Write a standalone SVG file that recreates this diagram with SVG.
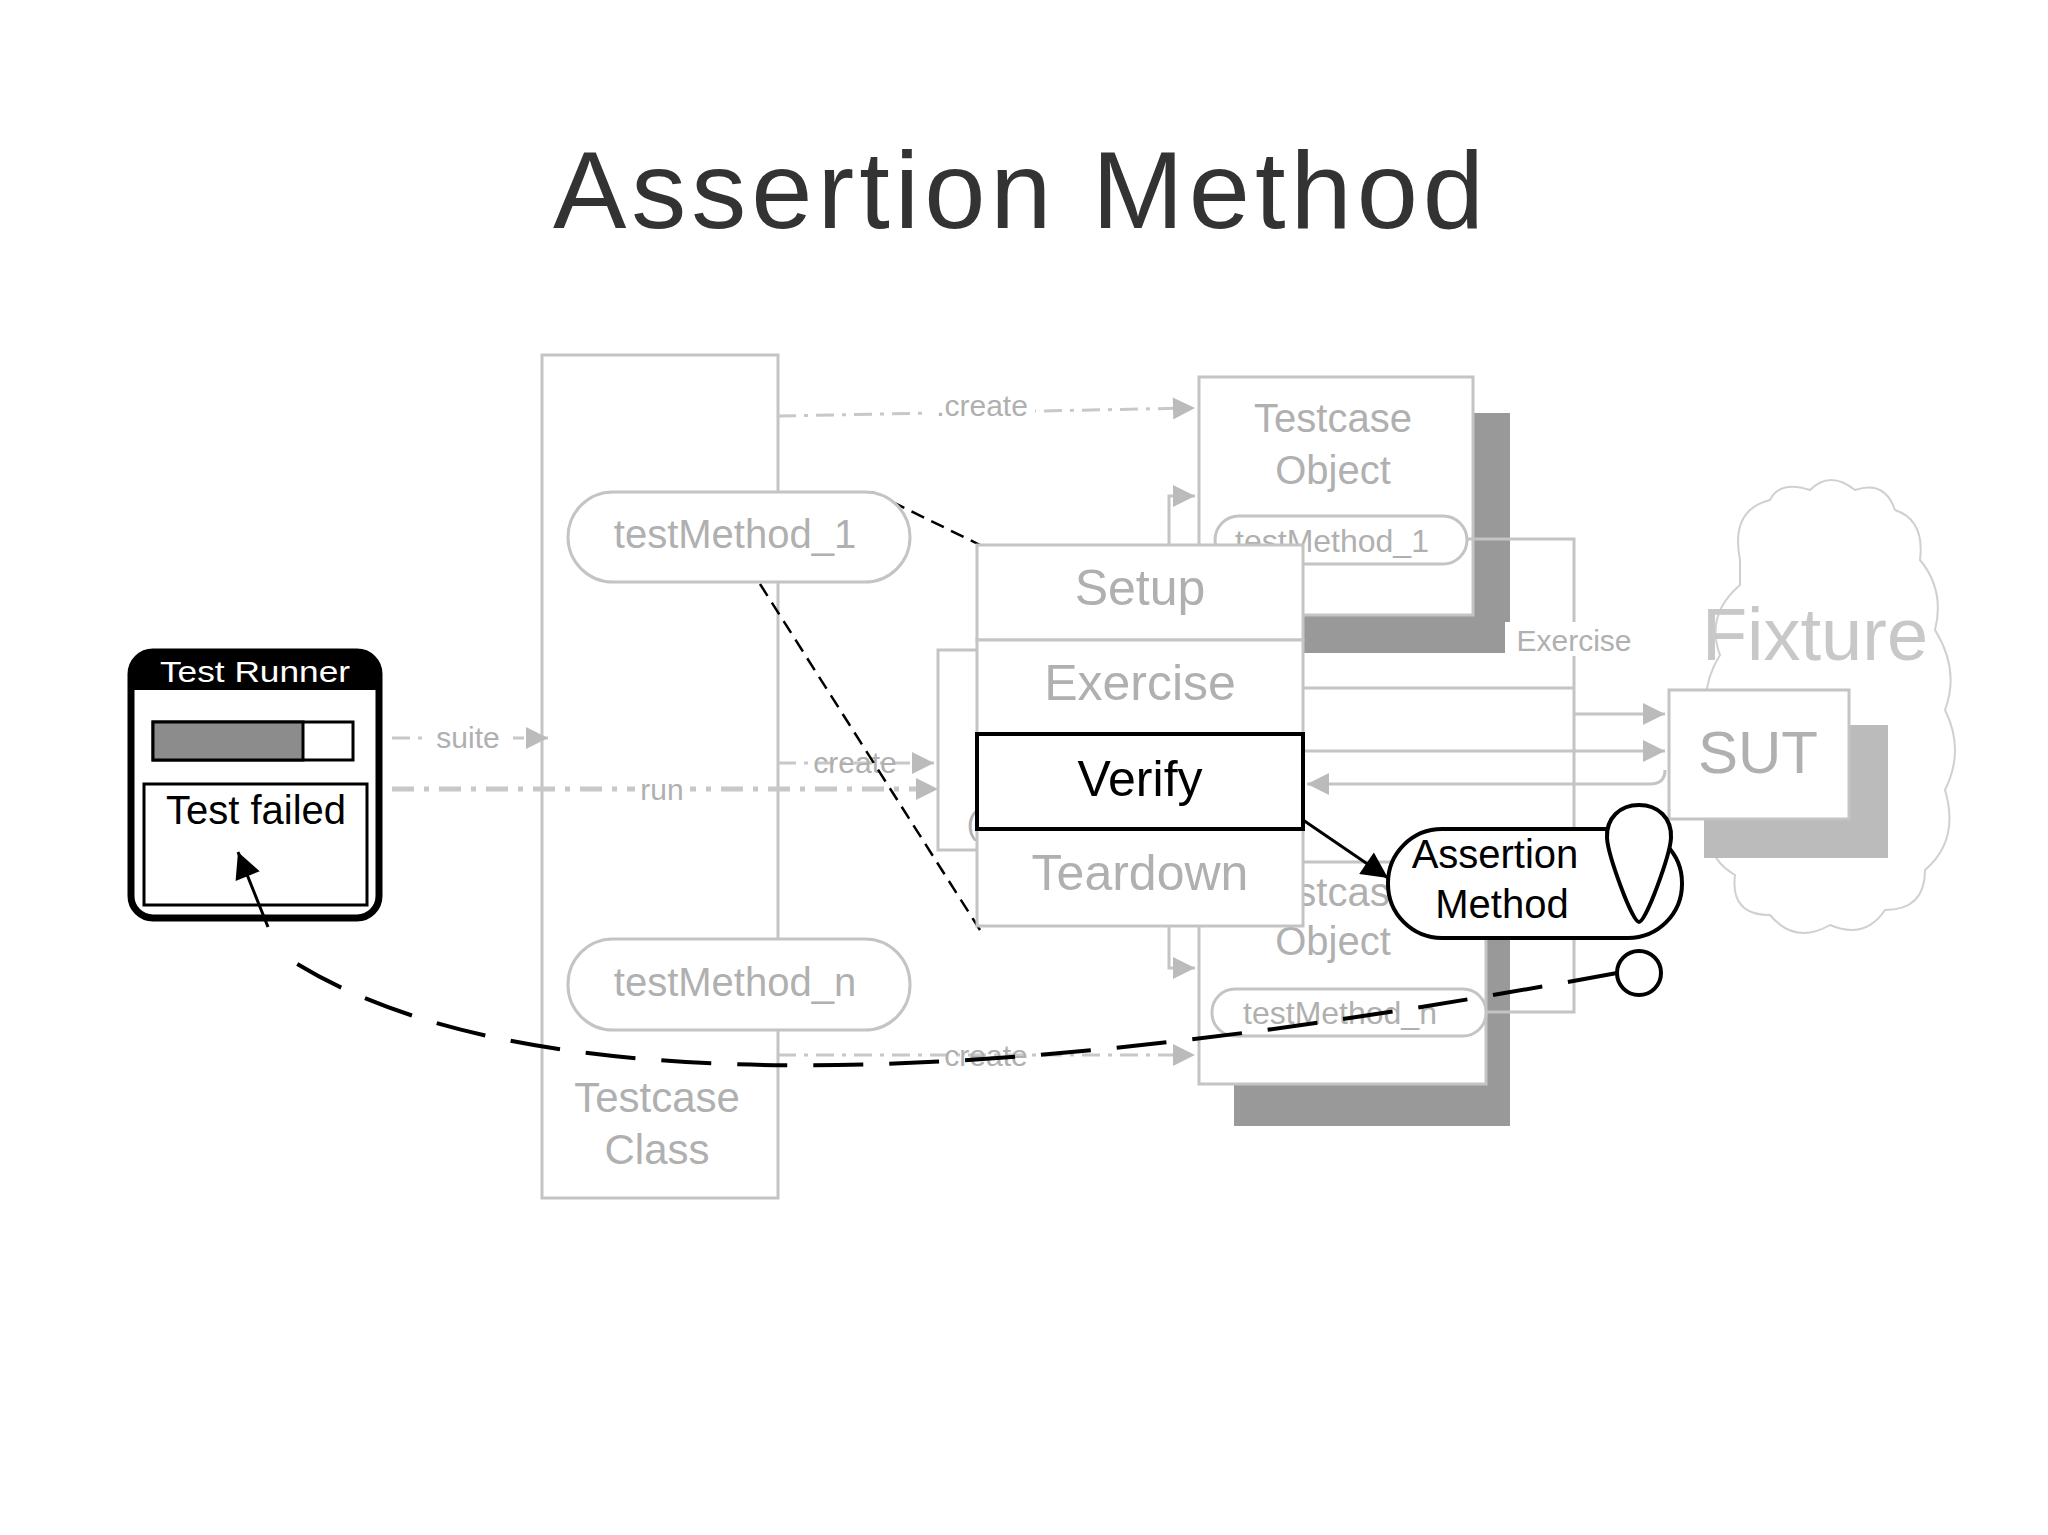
<svg xmlns="http://www.w3.org/2000/svg" width="2048" height="1535" viewBox="0 0 2048 1535">
<style>
text{font-family:"Liberation Sans",Arial,sans-serif;text-anchor:middle}
.g{fill:#fff;stroke:#c4c4c4;stroke-width:3}
.gt{fill:#b0b0b0}
.gl{fill:none;stroke:#c4c4c4;stroke-width:3}
.dd{fill:none;stroke:#c8c8c8;stroke-width:3;stroke-dasharray:18 8 4 8}
.bk{fill:none;stroke:#000;stroke-width:3}
</style>
<defs>
<marker id="gA" viewBox="0 0 10 10" refX="10" refY="5" markerWidth="30" markerHeight="22" orient="auto" markerUnits="userSpaceOnUse"><path d="M0,0L10,5L0,10z" fill="#bbb"/></marker>
<marker id="ba" viewBox="0 0 10 10" refX="10" refY="5" markerWidth="34" markerHeight="26" orient="auto" markerUnits="userSpaceOnUse"><path d="M0,0L10,5L0,10z" fill="#000"/></marker>
</defs>
<rect width="2048" height="1535" fill="#fff"/>
<text x="1021" y="228" font-size="110" letter-spacing="5" fill="#333" font-family="'Open Sans',sans-serif">Assertion Method</text>

<g id="fixture">
<path d="M1740,560 q-10,-50 30,-60 q10,-20 40,-10 q20,-20 45,0 q30,-10 40,20 q30,10 25,50 q25,30 15,70 q25,40 10,80 q20,40 0,80 q15,50 -20,80 q0,40 -40,40 q-20,30 -55,15 q-35,20 -60,-10 q-40,0 -35,-40 q-35,-20 -20,-60 q-25,-40 0,-80 q-20,-40 5,-80 q-15,-40 20,-70z" fill="#fff" stroke="#d0d0d0" stroke-width="2"/>
<text x="1815" y="660" font-size="74" fill="#c8c8c8">Fixture</text>
</g>

<g id="testcase-class">
<rect class="g" x="542" y="355" width="236" height="843"/>
<text class="gt" x="657" y="1112" font-size="42">Testcase</text>
<text class="gt" x="657" y="1164" font-size="42">Class</text>
</g>

<g id="obj-top">
<rect x="1234" y="413" width="276" height="240" fill="#999"/>
<rect class="g" x="1199" y="377" width="274" height="238"/>
<text class="gt" x="1333" y="432" font-size="40">Testcase</text>
<text class="gt" x="1333" y="484" font-size="40">Object</text>
<rect class="g" x="1215" y="516" width="252" height="48" rx="24"/>
<text class="gt" x="1332" y="552" font-size="32">testMethod_1</text>
</g>

<g id="obj-bottom">
<rect x="1234" y="898" width="276" height="228" fill="#999"/>
<rect class="g" x="1199" y="862" width="287" height="222"/>
<text class="gt" x="1333" y="906" font-size="40">Testcase</text>
<text class="gt" x="1333" y="955" font-size="40">Object</text>
<rect class="g" x="1212" y="989" width="274" height="47" rx="23"/>
<text class="gt" x="1340" y="1024" font-size="32">testMethod_n</text>
</g>

<g id="obj-mid">
<rect class="g" x="938" y="650" width="80" height="200"/>
<text class="gt" x="972" y="834" font-size="32">(</text>
</g>

<g id="connectors">
<path class="dd" d="M778,416 L1195,408" marker-end="url(#gA)"/>
<rect x="925" y="388" width="110" height="36" fill="#fff"/>
<text class="gt" x="982" y="416" font-size="30">.create</text>
<path class="dd" d="M392,738 L548,738" marker-end="url(#gA)"/>
<rect x="425" y="718" width="88" height="36" fill="#fff"/>
<text class="gt" x="468" y="748" font-size="30">suite</text>
<path d="M392,789 L938,789" fill="none" stroke="#c8c8c8" stroke-width="5" stroke-dasharray="22 10 5 10" marker-end="url(#gA)"/>
<rect x="635" y="770" width="55" height="36" fill="#fff"/>
<text class="gt" x="662" y="800" font-size="30">run</text>
<path class="dd" d="M778,763 L934,763" marker-end="url(#gA)"/>
<text class="gt" x="855" y="773" font-size="30">create</text>
<path class="dd" d="M778,1055 L1195,1055" marker-end="url(#gA)"/>
<text class="gt" x="986" y="1066" font-size="30">create</text>
<path class="gl" d="M1169,545 L1169,496 L1195,496" marker-end="url(#gA)"/>
<path class="gl" d="M1169,926 L1169,968 L1195,968" marker-end="url(#gA)"/>
<path class="gl" d="M1467,539 L1574,539 L1574,1012 L1486,1012"/>
<path class="gl" d="M1303,688 L1574,688"/>
<path class="gl" d="M1574,714 L1665,714" marker-end="url(#gA)"/>
<path class="gl" d="M1303,751 L1665,751" marker-end="url(#gA)"/>
<path class="gl" d="M1665,770 Q1665,784 1650,784 L1307,784" marker-end="url(#gA)"/>
<rect x="1505" y="622" width="140" height="34" fill="#fff"/>
<text class="gt" x="1574" y="651" font-size="30">Exercise</text>
<path d="M872,492 L980,545 M760,584 L980,930" fill="none" stroke="#000" stroke-width="2.5" stroke-dasharray="14 8"/>
<path class="bk" d="M1303,820 L1388,878" marker-end="url(#ba)"/>
<path d="M1617,973 C1200,1050 580,1140 294,962" fill="none" stroke="#000" stroke-width="4" stroke-dasharray="50 26"/>
</g>

<g id="phases">
<rect class="g" x="977" y="545" width="326" height="95"/>
<text class="gt" x="1140" y="605" font-size="50">Setup</text>
<rect class="g" x="977" y="640" width="326" height="94"/>
<text class="gt" x="1140" y="700" font-size="50">Exercise</text>
<rect class="g" x="977" y="829" width="326" height="97"/>
<text class="gt" x="1140" y="890" font-size="50">Teardown</text>
<rect x="977" y="734" width="326" height="95" fill="#fff" stroke="#000" stroke-width="4"/>
<text x="1140" y="796" font-size="50" fill="#000">Verify</text>
</g>

<g id="test-methods">
<rect class="g" x="568" y="492" width="342" height="90" rx="45"/>
<text class="gt" x="735" y="548" font-size="40">testMethod_1</text>
<rect class="g" x="568" y="939" width="342" height="91" rx="45"/>
<text class="gt" x="735" y="996" font-size="40">testMethod_n</text>
</g>

<g id="sut">
<rect x="1704" y="725" width="184" height="133" fill="#bbb"/>
<rect class="g" x="1669" y="690" width="180" height="129"/>
<text class="gt" x="1758" y="773" font-size="60">SUT</text>
</g>

<g id="test-runner">
<rect x="131" y="652" width="248" height="266" rx="22" fill="#fff" stroke="#000" stroke-width="7"/>
<path d="M131,690 L131,674 Q131,652 153,652 L357,652 Q379,652 379,674 L379,690z" fill="#000"/>
<text x="255" y="682" font-size="30" fill="#fff" textLength="190" lengthAdjust="spacingAndGlyphs">Test Runner</text>
<rect x="153" y="722" width="200" height="38" fill="#fff" stroke="#000" stroke-width="3"/>
<rect x="153" y="722" width="150" height="38" fill="#8c8c8c" stroke="#000" stroke-width="3"/>
<rect x="144" y="784" width="223" height="121" fill="#fff" stroke="#000" stroke-width="3"/>
<text x="256" y="824" font-size="40" fill="#000">Test failed</text>
</g>

<g id="fail-arrow">
<path class="bk" d="M268,927 L238,852" marker-end="url(#ba)"/>
</g>

<g id="assertion-method">
<rect x="1388" y="829" width="294" height="109" rx="54" fill="#fff" stroke="#000" stroke-width="4"/>
<text x="1495" y="868" font-size="40" fill="#000">Assertion</text>
<text x="1502" y="918" font-size="40" fill="#000">Method</text>
<path d="M1639,922 C1632,922 1608,855 1607,838 C1606,818 1620,805 1639,805 C1658,805 1672,818 1671,838 C1670,855 1646,922 1639,922z" fill="#fff" stroke="#000" stroke-width="4"/>
<circle cx="1639" cy="973" r="22" fill="#fff" stroke="#000" stroke-width="4"/>
</g>
</svg>
